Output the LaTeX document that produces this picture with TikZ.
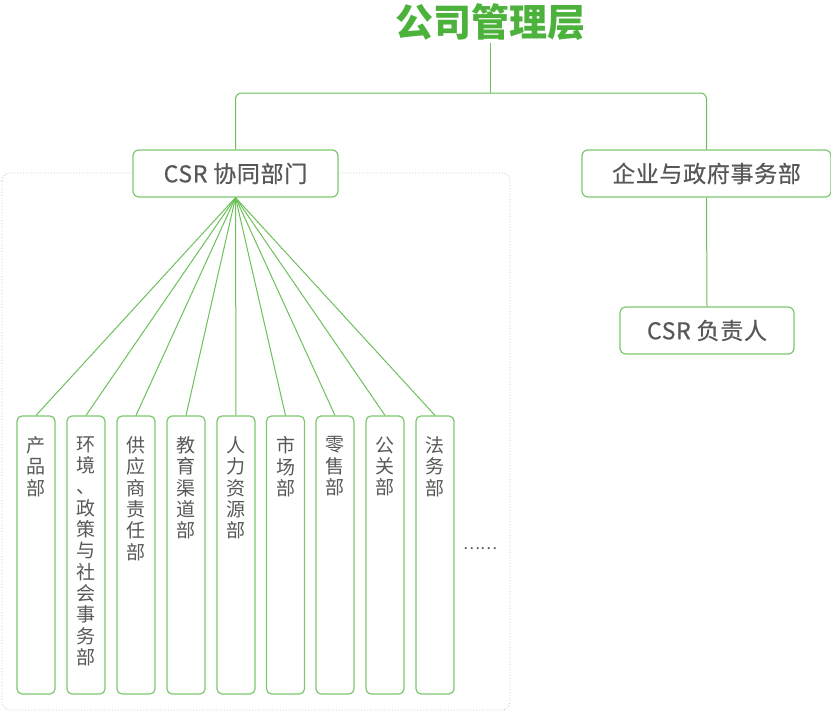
\documentclass[tikz,border=0pt]{standalone}
\usepackage{fontspec}
\setmainfont{Noto Sans CJK SC}
\newfontfamily\labelfont[FakeBold=0.6, LetterSpace=3]{Noto Sans CJK SC}
\usetikzlibrary{positioning}
\definecolor{titlegreen}{RGB}{76,178,60}
\definecolor{linegreen}{RGB}{108,192,90}
\definecolor{boxgreen}{RGB}{125,200,110}
\definecolor{labelgray}{RGB}{88,88,88}
\definecolor{framegray}{RGB}{190,190,190}
\tikzstyle{topbox}=[draw=boxgreen, line width=1.2pt, rounded corners=6pt, fill=white, minimum height=47pt, text=labelgray, font=\labelfont\fontsize{23}{26}\selectfont]
\tikzstyle{deptbox}=[draw=boxgreen, line width=1.2pt, rounded corners=5pt, fill=white, minimum width=38pt, minimum height=278pt]
\tikzstyle{depttext}=[align=center, inner sep=0pt, text=labelgray, font=\fontsize{19}{21.3}\selectfont]
\tikzstyle{link}=[draw=linegreen, line width=1pt]

\begin{document}
\begin{tikzpicture}[x=1pt, y=-1pt]
    \useasboundingbox (0,0) rectangle (831,712);

    % dotted frame round the CSR group
    \draw[framegray, dotted, line width=0.8pt, rounded corners=8pt] (2,173) rectangle (510,710);

    \node[text=titlegreen, font=\fontsize{38}{42}\selectfont\bfseries, inner sep=2pt] (mgmt) at (490,22) {公司管理层};
    \coordinate (junc) at (490,93);

    \node[topbox, minimum width=205pt] (csr) at (235.5,173.5) {CSR 协同部门};
    \node[topbox, minimum width=249pt] (gov) at (706.5,173.5) {企业与政府事务部};
    \node[topbox, minimum width=174pt] (duty) at (707,330.5) {CSR 负责人};

    % departments
    \node[deptbox] (d1) at (36,555) {};
    \node[deptbox] (d2) at (86,555) {};
    \node[deptbox] (d3) at (136,555) {};
    \node[deptbox] (d4) at (186,555) {};
    \node[deptbox] (d5) at (236,555) {};
    \node[deptbox] (d6) at (285.5,555) {};
    \node[deptbox] (d7) at (335,555) {};
    \node[deptbox] (d8) at (385,555) {};
    \node[deptbox] (d9) at (435,555) {};

    \node[depttext, below=21pt of d1.north] (t1) {产\\品\\部};
    \node[depttext, below=21pt of d2.north] (t2) {环\\境\\、\\政\\策\\与\\社\\会\\事\\务\\部};
    \node[depttext, below=21pt of d3.north] (t3) {供\\应\\商\\责\\任\\部};
    \node[depttext, below=21pt of d4.north] (t4) {教\\育\\渠\\道\\部};
    \node[depttext, below=21pt of d5.north] (t5) {人\\力\\资\\源\\部};
    \node[depttext, below=21pt of d6.north] (t6) {市\\场\\部};
    \node[depttext, below=21pt of d7.north] (t7) {零\\售\\部};
    \node[depttext, below=21pt of d8.north] (t8) {公\\关\\部};
    \node[depttext, below=21pt of d9.north] (t9) {法\\务\\部};

    \node[text=labelgray, font=\fontsize{16}{18}\selectfont] (more) at (480,549) {……};

    % Links
    \draw[link] (mgmt.south) -- (junc);
    \draw[link, rounded corners=6pt] (csr.north) |- (junc) -| (gov.north);
    \draw[link] (gov.south) -- (duty.north);
    \draw[link] (csr.south) -- (d1.north);
    \draw[link] (csr.south) -- (d2.north);
    \draw[link] (csr.south) -- (d3.north);
    \draw[link] (csr.south) -- (d4.north);
    \draw[link] (csr.south) -- (d5.north);
    \draw[link] (csr.south) -- (d6.north);
    \draw[link] (csr.south) -- (d7.north);
    \draw[link] (csr.south) -- (d8.north);
    \draw[link] (csr.south) -- (d9.north);

\end{tikzpicture}
\end{document}
